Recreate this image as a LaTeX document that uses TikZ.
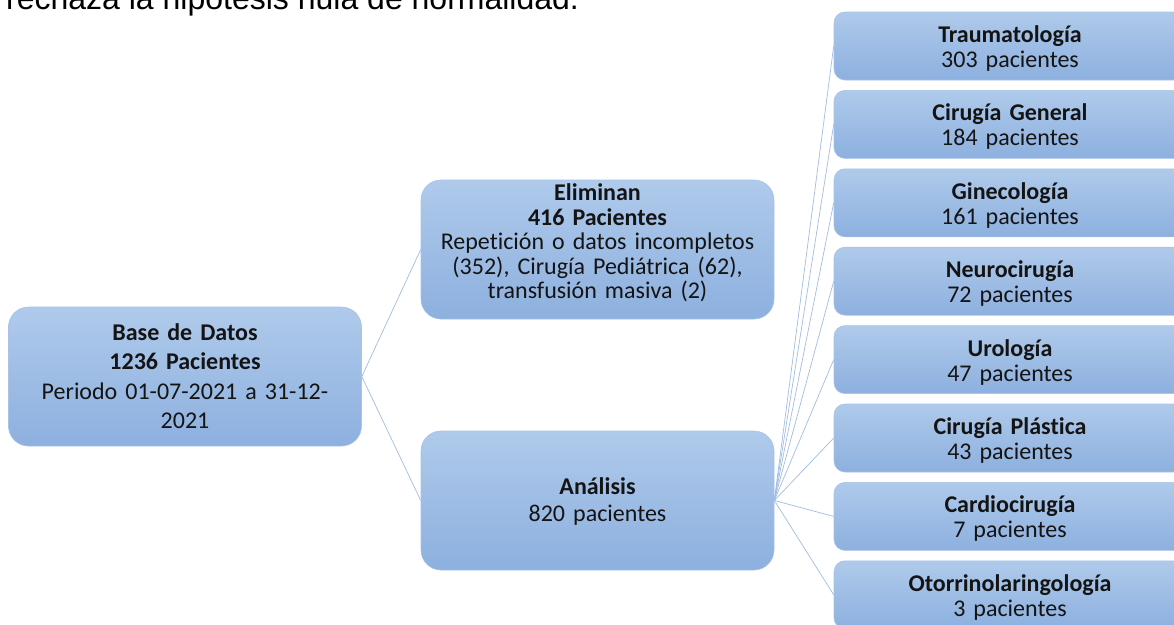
\documentclass[tikz,border=0pt]{standalone}
\usepackage{fontspec}
\setmainfont{Carlito}[WordSpace=0.72, Ligatures=NoCommon]
\newfontfamily\arialf{Liberation Sans}
\definecolor{boxtop}{HTML}{AFCAEB}
\definecolor{boxbot}{HTML}{8DB0DF}
\definecolor{boxline}{HTML}{A9C2E6}
\definecolor{conn}{HTML}{A3BDE0}
\definecolor{txt}{HTML}{141414}
\begin{document}
\begin{tikzpicture}[x=1pt,y=-1pt,
  bigbox/.style={rectangle, rounded corners=20pt, top color=boxtop, bottom color=boxbot,
     draw=boxline, line width=0.6pt, minimum width=353pt, minimum height=139pt, inner sep=0pt},
  smallbox/.style={rectangle, rounded corners=11pt, top color=boxtop, bottom color=boxbot,
     draw=boxline, line width=0.6pt, minimum width=352pt, minimum height=68pt, inner sep=0pt},
  boxtext/.style={inner sep=0pt, align=center, text=txt, text width=345pt},
  smalltext/.style={boxtext, font=\fontsize{24}{25}\selectfont},
  conline/.style={draw=conn, line width=0.7pt}]
\useasboundingbox (0,0) rectangle (1174,624);
\clip (0,0) rectangle (1174,624);
\fill[white] (0,0) rectangle (1174,624);
\node[anchor=base west, inner sep=0pt, font=\arialf\fontsize{32}{36}\selectfont] (top) at (6,9) {rechaza la hipótesis nula de normalidad.};
% boxes
\node[bigbox] (base) at (185,376.5) {};
\node[bigbox] (elim) at (597.5,249.5) {};
\node[bigbox] (anal) at (597.5,500.5) {};
\node[smallbox] (r1) at (1010,46) {};
\node[smallbox] (r2) at (1010,124.4) {};
\node[smallbox] (r3) at (1010,202.8) {};
\node[smallbox] (r4) at (1010,281.2) {};
\node[smallbox] (r5) at (1010,359.6) {};
\node[smallbox] (r6) at (1010,438) {};
\node[smallbox] (r7) at (1010,516.4) {};
\node[smallbox] (r8) at (1010,594.8) {};
% texts
\node[boxtext, font=\fontsize{24}{29.5}\selectfont] (baset) at (185,376) {\textbf{Base de Datos}\\\textbf{1236 Pacientes}\\Periodo 01-07-2021 a 31-12-\\2021};
\node[boxtext, font=\fontsize{24}{24.5}\selectfont] (elimt) at (597.5,243) {\textbf{Eliminan}\\\textbf{416 Pacientes}\\Repetición o datos incompletos\\(352), Cirugía Pediátrica (62),\\transfusión masiva (2)};
\node[boxtext, font=\fontsize{24}{27}\selectfont] (analt) at (597.5,502) {\textbf{Análisis}\\820 pacientes};
\node[smalltext] (r1t) at (1010,48.5) {\textbf{Traumatología}\\303 pacientes};
\node[smalltext] (r2t) at (1010,126.9) {\textbf{Cirugía General}\\184 pacientes};
\node[smalltext] (r3t) at (1010,205.3) {\textbf{Ginecología}\\161 pacientes};
\node[smalltext] (r4t) at (1010,283.7) {\textbf{Neurocirugía}\\72 pacientes};
\node[smalltext] (r5t) at (1010,362.1) {\textbf{Urología}\\47 pacientes};
\node[smalltext] (r6t) at (1010,440.5) {\textbf{Cirugía Plástica}\\43 pacientes};
\node[smalltext] (r7t) at (1010,518.9) {\textbf{Cardiocirugía}\\7 pacientes};
\node[smalltext] (r8t) at (1010,597.3) {\textbf{Otorrinolaringología}\\3 pacientes};
% connectors
\draw[conline] (base.east) -- (elim.west);
\draw[conline] (base.east) -- (anal.west);
\foreach \r in {r1,r2,r3,r4,r5,r6,r7,r8}{
  \draw[conline] (anal.east) -- (\r.west);
}
\end{tikzpicture}
\end{document}
